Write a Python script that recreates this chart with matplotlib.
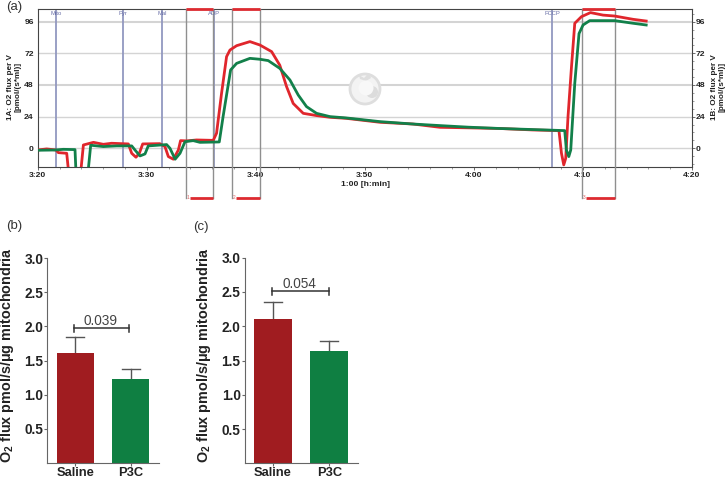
import matplotlib
matplotlib.use('Agg')
import matplotlib.pyplot as plt
from matplotlib.patches import Circle, Polygon
from matplotlib.ticker import MultipleLocator, FixedLocator
from matplotlib.transforms import blended_transform_factory

plt.rcParams['font.family'] = ['Liberation Sans', 'DejaVu Sans']
plt.rcParams['mathtext.fontset'] = 'custom'
plt.rcParams['mathtext.bf'] = 'Liberation Sans:bold'
plt.rcParams['mathtext.rm'] = 'Liberation Sans'

# trace data, minutes after 3:20 / flux
red_t = [0, .82, 1.68, 1.89, 2.66, 2.81, 3.0, 3.9, 3.97, 4.19, 5.11, 6.02, 6.78, 8.31, 8.62, 9.01, 9.32, 9.63, 11.2, 11.67, 11.98, 12.44,
         12.9, 13.1, 13.66, 14.57, 16.1, 16.4, 16.86, 17.32, 17.63, 18.24, 19.46, 20.38, 21.45, 22.2, 22.82, 23.43, 24.35, 25.57,
         26.8, 28.3, 31.4, 34.4, 36.9, 39.5, 42.4, 45.4, 47.8, 48.03, 48.24, 48.42, 48.63, 48.95, 49.25, 49.86, 50.69, 51.84, 52.9, 54.6, 55.8]
red_y = [-1.3, -.5, -1.3, -3.3, -3.8, -16, -30, -30, -16, 2.5, 4.5, 3, 3.8, 3.3, -3.8, -6.8, -3.8, 3.3, 3.5, 1.3, -6.3, -8.3,
         -1.3, 5.8, 5.6, 6.3, 6, 11.4, 41.7, 69.5, 74.5, 77.8, 80.9, 78.3, 73.3, 63, 46.8, 34, 26.5, 24.8,
         23.5, 22.7, 19.7, 18.4, 15.9, 15.5, 15, 13.9, 13.4, -3.8, -12.6, -7.6, 24, 61.9, 94.8, 99.8, 102.9, 101, 100.3, 97.8, 96.5]
green_t = [0, 1.6, 2.35, 3.42, 3.5, 3.7, 4.5, 4.64, 4.86, 6.02, 7.24, 8.62, 8.92, 9.38, 9.84, 10.14, 11.82, 12.13, 12.6, 13.05, 13.51,
           14.26, 14.88, 16.65, 17.0, 17.69, 18.24, 19.46, 20.38, 21.14, 22.2, 23.13, 23.89, 24.65, 25.57, 26.8, 28.3, 31.4, 34.4,
           36.9, 39.5, 42.4, 45.4, 48.33, 48.48, 48.7, 48.88, 49.25, 49.64, 50.01, 50.62, 51.54, 52.9, 54.6, 55.8]
green_y = [-1.5, -1.3, -.8, -1, -16, -30, -30, -16, 2.3, 1.3, 1.8, 1.8, -1.3, -5.8, -4.3, 1.8, 2.8, 0, -8.3, -3.8, 5,
           5.8, 4.5, 4.8, 24, 59.4, 64.4, 68.2, 67.5, 66.5, 60.6, 51.8, 40.4, 31.6, 26.5, 24, 23, 20.2, 18.4,
           17.2, 16, 15, 14.2, 13.4, -1.3, -6.3, -1.3, 49.3, 87, 93.5, 96.8, 96.8, 96.8, 94.8, 93.5]

event_names = ['Mito', 'Pyr', 'Mal', 'ADP', 'FCCP']
event_t = [1.65, 7.82, 11.43, 16.2, 47.2]
box_start = [13.6, 17.84, 49.9]
box_end = [16.04, 20.41, 52.9]
box_names = ['1', '2', '3']
time_ticks = [0, 10, 20, 30, 40, 50, 60]
time_labels = ['3:20', '3:30', '3:40', '3:50', '4:00', '4:10', '4:20']
flux_ticks = [0, 24, 48, 72, 96]

groups = ['Saline', 'P3C']
b_vals = [1.61, 1.23]
b_top = [1.84, 1.37]
c_vals = [2.10, 1.64]
c_top = [2.36, 1.79]
bar_ticks = [0.5, 1.0, 1.5, 2.0, 2.5, 3.0]

W, H = 727, 479
fig = plt.figure(figsize=(W / 100, H / 100), dpi=100)


def px_axes(left, top, right, bottom):
    return fig.add_axes([left / W, 1 - bottom / H, (right - left) / W, (bottom - top) / H])


def px_text(x, y, s, **kw):
    fig.text(x / W, 1 - y / H, s, **kw)


# panel a
ax = px_axes(37.7, 9.3, 692, 167)
ax.set_xlim(0, 60)
ax.set_ylim(-14.2, 105.4)
for v in flux_ticks:
    ax.axhline(v, color='#d4d4d4', lw=1.5 if v in (48, 96) else 1.0, zorder=1)
for t, name in zip(event_t, event_names):
    ax.axvline(t, color='#9298c0', lw=1.3, zorder=2)
    ax.text(t, 102, name, color='#6a70a8', fontsize=4.2, ha='center', va='center', zorder=6)

trans = blended_transform_factory(ax.transData, ax.transAxes)
for a, b, n in zip(box_start, box_end, box_names):
    low = -0.195
    ax.plot([a, a], [1, low], color='#8f8f8f', lw=1.0, transform=trans, clip_on=False, zorder=3)
    ax.plot([b, b], [1, low], color='#8f8f8f', lw=1.0, transform=trans, clip_on=False, zorder=3)
    ax.plot([a, b], [1.003, 1.003], color='#dd2a30', lw=2, transform=trans, clip_on=False, zorder=5, solid_capstyle='butt')
    ax.plot([a + 0.35, b], [low, low], color='#dd2a30', lw=2, transform=trans, clip_on=False, zorder=5, solid_capstyle='butt')
    ax.text(a + 0.05, low, n, color='#dd6060', fontsize=3.5, transform=trans, ha='left', va='center')

ax.plot(red_t, red_y, color='#e0262c', lw=2.0, zorder=4)
ax.plot(green_t, green_y, color='#12804a', lw=2.0, zorder=5)

# logo watermark
logo = fig.add_axes([0, 0, 1, 1], facecolor='none')
logo.set_xlim(0, W)
logo.set_ylim(H, 0)
logo.axis('off')
logo.add_patch(Circle((365, 89), 15, fc='#f3f3f3', ec='#dedede', lw=2))
logo.add_patch(Polygon([(359, 75), (364, 78), (369, 73), (371, 78), (366, 81), (360, 79)], fc='#dedede', ec='none'))
logo.add_patch(Circle((372, 92), 6, fc='#dcdcdc', ec='none'))
logo.add_patch(Circle((366, 88), 7.5, fc='#f8f8f8', ec='none'))

ax.set_xticks(time_ticks)
ax.set_xticklabels(time_labels, fontsize=6.1, fontweight='bold', color='#222222')
ax.xaxis.set_minor_locator(MultipleLocator(2))
ax.set_yticks(flux_ticks)
ax.set_yticklabels(flux_ticks, fontsize=6.1, fontweight='bold', color='#222222')
ax.yaxis.set_minor_locator(MultipleLocator(6))
ax.tick_params(axis='x', which='major', length=2.5, width=0.6, color='#555555', pad=1.2)
ax.tick_params(axis='x', which='minor', length=1.5, width=0.5, color='#777777')
ax.tick_params(axis='y', which='major', length=2.5, width=0.6, color='#555555', pad=0.3,
               left=False, right=True, labelright=True)
ax.tick_params(axis='y', which='minor', length=1.5, width=0.5, color='#777777', left=False, right=True)
ax.tick_params(axis='y', which='major', labelleft=True)
for s in ax.spines.values():
    s.set_color('#444444')
    s.set_linewidth(0.8)

px_text(14, 87, '1A: O2 flux per V\n[pmol/(s*ml)]', rotation=90, fontsize=5.9, fontweight='bold', ha='center', va='center', linespacing=1.05, color='#222222')
px_text(718, 87, '1B: O2 flux per V\n[pmol/(s*ml)]', rotation=90, fontsize=5.9, fontweight='bold', ha='center', va='center', linespacing=1.05, color='#222222')
px_text(365, 185, '1:00 [h:min]', fontsize=6.1, fontweight='bold', ha='center', va='center', color='#222222')
px_text(6, 7, '(a)', fontsize=9.5, ha='left', va='center', color='#333333')
px_text(6, 226, '(b)', fontsize=9.5, ha='left', va='center', color='#333333')
px_text(193, 227, '(c)', fontsize=9.5, ha='left', va='center', color='#333333')


def bar_panel(rect, vals, tops, br_y, br_x, label, lab_x):
    a = px_axes(*rect)
    a.set_xlim(-0.503, 1.507)
    a.set_ylim(0, 3.0)
    pos = [0, 1]
    a.bar(pos, vals, width=0.67, color=['#a01c20', '#0f7f42'], zorder=2)
    for p, v, t in zip(pos, vals, tops):
        a.plot([p, p], [v, t], color='#555555', lw=1.0, zorder=1)
        a.plot([p - 0.16, p + 0.16], [t, t], color='#555555', lw=1.0, zorder=1)
    a.plot(br_x, [br_y, br_y], color='#333333', lw=1.1)
    for bx in br_x:
        a.plot([bx, bx], [br_y - 0.05, br_y + 0.05], color='#333333', lw=1.1)
    a.text(sum(br_x) / 2 - 0.02, br_y + 0.0, label, fontsize=9.8, ha='center', va='bottom', color='#444444')
    a.set_xticks(pos)
    a.set_xticklabels(groups, fontsize=9.3, fontweight='bold', color='#222222')
    a.yaxis.set_major_locator(FixedLocator(bar_ticks))
    a.set_yticklabels(['%.1f' % v for v in bar_ticks], fontsize=9.8, fontweight='bold', color='#222222')
    a.tick_params(axis='y', length=2, width=0.8, color='#666666', pad=1)
    a.tick_params(axis='x', length=2, width=0.8, color='#666666', pad=0.8)
    a.spines['top'].set_visible(False)
    a.spines['right'].set_visible(False)
    a.spines['left'].set_color('#666666')
    a.spines['bottom'].set_color('#666666')
    px_text(lab_x, 355.5, r'O$_{\mathbf{2}}$ flux pmol/s/μg mitochondria', rotation=90, fontsize=10.4,
            fontweight='bold', ha='center', va='center', color='#222222')


bar_panel((47.3, 258.3, 159, 462.7), b_vals, b_top, 1.97, [-0.02, 0.97], '0.039', 7.5)
bar_panel((244.7, 257.7, 357.7, 463.3), c_vals, c_top, 2.51, [-0.02, 0.99], '0.054', 204)

fig.savefig('out.png', dpi=100)
